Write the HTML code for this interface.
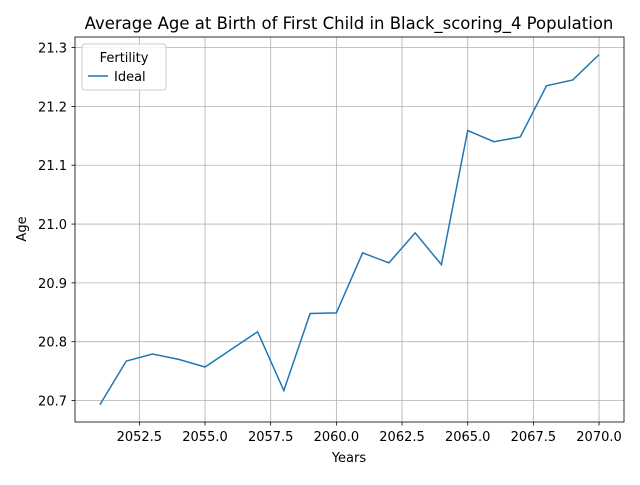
<!DOCTYPE html>
<html><head><meta charset="utf-8"><style>
body{margin:0;background:#fff;font-family:"Liberation Sans","DejaVu Sans",sans-serif;}
svg text{font-family:"DejaVu Sans","Liberation Sans",sans-serif;}
</style></head><body>
<svg id="chart" width="640" height="480" xmlns="http://www.w3.org/2000/svg"></svg>
<script>
const years=[2051,2052,2053,2054,2055,2056,2057,2058,2059,2060,2061,2062,2063,2064,2065,2066,2067,2068,2069,2070];
const ages=[20.693,20.767,20.779,20.770,20.757,20.787,20.817,20.717,20.848,20.849,20.951,20.934,20.985,20.931,21.159,21.140,21.148,21.235,21.245,21.288];
const xTicks=[2052.5,2055.0,2057.5,2060.0,2062.5,2065.0,2067.5,2070.0];
const yTicks=[20.7,20.8,20.9,21.0,21.1,21.2,21.3];
const L=75,R=624,T=37,B=422;
const xMin=2050.05,xMax=2070.95,yMin=20.6635,yMax=21.318;
const sx=v=>L+(v-xMin)/(xMax-xMin)*(R-L);
const sy=v=>B-(v-yMin)/(yMax-yMin)*(B-T);
const svg=document.getElementById('chart');
const NS='http://www.w3.org/2000/svg';
function mk(tag,attrs,parent){const e=document.createElementNS(NS,tag);for(const k in attrs)e.setAttribute(k,attrs[k]);(parent||svg).appendChild(e);return e;}
xTicks.forEach(t=>{const x=sx(t);
const g=mk('line',{x1:x,x2:x,y1:T,y2:B,stroke:'#b0b0b0','stroke-width':0.8});


mk('line',{x1:x,x2:x,y1:B,y2:B+3.5,stroke:'#000','stroke-width':0.8});
const tx=mk('text',{x:x,y:B+19,'font-size':13,'text-anchor':'middle',fill:'#000'});tx.textContent=t.toFixed(1);

});
yTicks.forEach(t=>{const y=sy(t);
const g=mk('line',{x1:L,x2:R,y1:y,y2:y,stroke:'#b0b0b0','stroke-width':0.8});


mk('line',{x1:L-3.5,x2:L,y1:y,y2:y,stroke:'#000','stroke-width':0.8});
const tx=mk('text',{x:L-8,y:y+5,'font-size':13,'text-anchor':'end',fill:'#000'});tx.textContent=t.toFixed(1);

});
const line=mk('polyline',{points:years.map((y,i)=>sx(y)+','+sy(ages[i])).join(' '),fill:'none',stroke:'#1f77b4','stroke-width':1.5});


const fr=mk('rect',{x:L,y:T,width:R-L,height:B-T,fill:'none',stroke:'#000','stroke-width':0.8});


</script>
<svg width="640" height="480" style="position:absolute;left:0;top:0" xmlns="http://www.w3.org/2000/svg">
<text x="349" y="29" font-size="16.5" text-anchor="middle">Average Age at Birth of First Child in Black_scoring_4 Population</text>
<text x="349" y="462" font-size="13" text-anchor="middle">Years</text>
<text x="0" y="0" font-size="13" text-anchor="middle" transform="translate(26,229) rotate(-90)">Age</text>
<g>
<rect x="82" y="44" width="84" height="46" rx="3" fill="#fff" fill-opacity="0.8" stroke="#ccc"/>
<text x="124" y="62" font-size="13" text-anchor="middle">Fertility</text>
<line x1="88" x2="108" y1="76" y2="76" stroke="#1f77b4" stroke-width="1.5"/>
<text x="114" y="81" font-size="13">Ideal</text>
</g>
</svg>
</body></html>
